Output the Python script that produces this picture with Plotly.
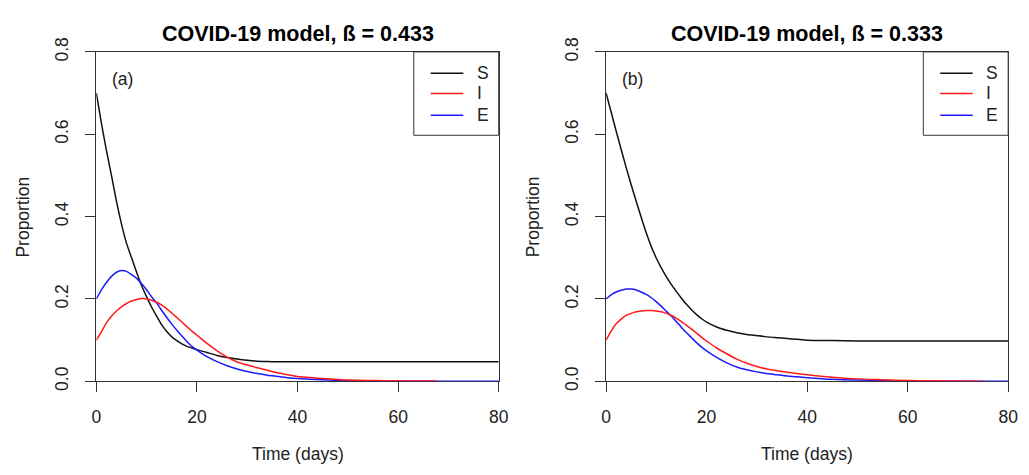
import plotly.graph_objects as go

# ---------------- data ----------------
DAYS = list(range(0, 21)) + list(range(22, 41, 2)) + [45, 50, 55, 60, 65, 70, 75, 80]

# panel (a): beta = 0.433
S_A = [0.700, 0.627, 0.561, 0.500, 0.437, 0.382, 0.335, 0.300, 0.265, 0.232, 0.205,
       0.180, 0.158, 0.137, 0.121, 0.108, 0.099, 0.091, 0.085, 0.081, 0.077,
       0.070, 0.063, 0.058, 0.054, 0.051, 0.049, 0.048, 0.0475, 0.0475, 0.0475,
       0.0475, 0.0475, 0.0475, 0.0475, 0.0475, 0.0475, 0.0475, 0.0475]
E_A = [0.200, 0.222, 0.240, 0.255, 0.265, 0.269, 0.267, 0.259, 0.250, 0.237, 0.222,
       0.205, 0.190, 0.172, 0.155, 0.139, 0.124, 0.110, 0.097, 0.085, 0.076,
       0.060, 0.048, 0.038, 0.030, 0.024, 0.019, 0.015, 0.012, 0.009, 0.007,
       0.004, 0.002, 0.001, 0.0006, 0.0003, 0.0002, 0.0001, 0.0]
I_A_DAYS = list(range(0, 21)) + list(range(22, 41, 2)) + [45, 50, 55, 60, 65, 67.7]
I_A = [0.100, 0.120, 0.142, 0.158, 0.171, 0.181, 0.189, 0.195, 0.199, 0.201, 0.200,
       0.197, 0.192, 0.185, 0.176, 0.166, 0.155, 0.144, 0.133, 0.122, 0.112,
       0.092, 0.074, 0.059, 0.047, 0.0395, 0.033, 0.027, 0.021, 0.016, 0.012,
       0.007, 0.003, 0.002, 0.001, 0.0008, 0.0006]

# panel (b): beta = 0.333
S_B = [0.700, 0.654, 0.608, 0.563, 0.519, 0.477, 0.437, 0.398, 0.360, 0.327, 0.299,
       0.275, 0.254, 0.235, 0.218, 0.202, 0.187, 0.174, 0.162, 0.152, 0.144,
       0.132, 0.124, 0.118, 0.114, 0.111, 0.108, 0.106, 0.104, 0.102, 0.100,
       0.099, 0.098, 0.098, 0.098, 0.098, 0.098, 0.098, 0.098]
E_B = [0.200, 0.210, 0.217, 0.221, 0.224, 0.224, 0.222, 0.217, 0.211, 0.203, 0.193,
       0.182, 0.170, 0.158, 0.145, 0.131, 0.118, 0.106, 0.094, 0.083, 0.074,
       0.058, 0.045, 0.035, 0.028, 0.023, 0.019, 0.016, 0.013, 0.011, 0.009,
       0.005, 0.003, 0.002, 0.001, 0.0006, 0.0003, 0.0002, 0.0]
I_B_DAYS = list(range(0, 21)) + list(range(22, 41, 2)) + [45, 50, 55, 60, 65, 70, 75]
I_B = [0.100, 0.122, 0.140, 0.151, 0.160, 0.165, 0.169, 0.171, 0.172, 0.172, 0.171,
       0.169, 0.165, 0.160, 0.153, 0.145, 0.136, 0.127, 0.117, 0.107, 0.098,
       0.081, 0.067, 0.054, 0.044, 0.036, 0.030, 0.026, 0.022, 0.019, 0.016,
       0.010, 0.006, 0.004, 0.002, 0.0012, 0.0008, 0.0005]

TITLES = ["COVID-19 model, ß = 0.433", "COVID-19 model, ß = 0.333"]
PANEL_TAGS = ["(a)", "(b)"]
SERIES_NAMES = ["S", "I", "E"]
X_TICKS = [0, 20, 40, 60, 80]
Y_TICKS = [0.0, 0.2, 0.4, 0.6, 0.8]
Y_TICK_TEXT = ["0.0", "0.2", "0.4", "0.6", "0.8"]

COLORS = {"S": "#111111", "I": "#ff1a1a", "E": "#1a1aff"}
FONT = "Liberation Sans, Arial, sans-serif"
AXIS_COLOR = "#333333"
TEXT_COLOR = "#222222"

fig = go.Figure()

panels = [
    ("x", "y", {"S": (DAYS, S_A), "E": (DAYS, E_A), "I": (I_A_DAYS, I_A)}),
    ("x2", "y2", {"S": (DAYS, S_B), "E": (DAYS, E_B), "I": (I_B_DAYS, I_B)}),
]
for xa, ya, series in panels:
    for name in ["S", "E", "I"]:
        xs, ys = series[name]
        fig.add_trace(go.Scatter(
            x=xs, y=ys, mode="lines", name=name, xaxis=xa, yaxis=ya,
            line=dict(color=COLORS[name], width=1.5, shape="spline", smoothing=0.6),
            showlegend=False, hoverinfo="skip"))

X_DOMAINS = [[0.0901, 0.4869], [0.5928, 0.9893]]
Y_DOMAIN = [0.1859, 0.9179]

def xaxis_cfg(dom, anchor):
    return dict(domain=dom, anchor=anchor, range=[0, 80], tickvals=X_TICKS,
                ticks="outside", ticklen=10, tickwidth=1, tickcolor=AXIS_COLOR,
                showline=True, linecolor=AXIS_COLOR, linewidth=1, mirror=True,
                showgrid=False, zeroline=False, layer="below traces",
                ticklabelstandoff=10,
                tickfont=dict(family=FONT, size=17.5, color=TEXT_COLOR))

def yaxis_cfg(anchor):
    return dict(domain=Y_DOMAIN, anchor=anchor, range=[0, 0.8], tickvals=Y_TICKS,
                ticktext=Y_TICK_TEXT, tickangle=-90,
                ticks="outside", ticklen=10, tickwidth=1, tickcolor=AXIS_COLOR,
                showline=True, linecolor=AXIS_COLOR, linewidth=1, mirror=True,
                showgrid=False, zeroline=False, layer="below traces",
                ticklabelstandoff=10,
                tickfont=dict(family=FONT, size=17.5, color=TEXT_COLOR))

fig.update_layout(
    width=1029, height=475,
    margin=dict(l=0, r=0, t=0, b=0),
    paper_bgcolor="white", plot_bgcolor="white",
    showlegend=False,
    xaxis=xaxis_cfg(X_DOMAINS[0], "y"),
    yaxis=yaxis_cfg("x"),
    xaxis2=xaxis_cfg(X_DOMAINS[1], "y2"),
    yaxis2=yaxis_cfg("x2"),
)

annotations = []
shapes = []
legend_rows_y = [0.935, 0.874, 0.808]
for k, (xa, ya) in enumerate([("x", "y"), ("x2", "y2")]):
    dom = X_DOMAINS[k]
    cx = (dom[0] + dom[1]) / 2
    # panel title
    annotations.append(dict(text="<b>%s</b>" % TITLES[k], xref="paper", yref="paper",
                            x=cx, y=1 - 20 / 475, xanchor="center", yanchor="middle",
                            showarrow=False, font=dict(family=FONT, size=21.5, color="black")))
    # x axis title
    annotations.append(dict(text="Time (days)", xref="paper", yref="paper",
                            x=cx, y=1 - 463 / 475, xanchor="center", yanchor="middle",
                            showarrow=False, font=dict(family=FONT, size=17.5, color=TEXT_COLOR)))
    # y axis title
    annotations.append(dict(text="Proportion", xref="paper", yref="paper",
                            x=dom[0] - 74.5 / 1029, y=(Y_DOMAIN[0] + Y_DOMAIN[1]) / 2,
                            xanchor="center", yanchor="middle", textangle=-90,
                            showarrow=False, font=dict(family=FONT, size=17.5, color=TEXT_COLOR)))
    # panel tag
    annotations.append(dict(text=PANEL_TAGS[k], xref=xa + " domain", yref=ya + " domain",
                            x=0.035, y=0.919, xanchor="left", yanchor="middle",
                            showarrow=False, font=dict(family=FONT, size=17.5, color=TEXT_COLOR)))
    # legend box
    shapes.append(dict(type="rect", xref=xa + " domain", yref=ya + " domain",
                       x0=0.789, x1=1.0, y0=0.747, y1=1.0,
                       line=dict(color=AXIS_COLOR, width=1), fillcolor="white", layer="above"))
    for name, ry in zip(SERIES_NAMES, legend_rows_y):
        shapes.append(dict(type="line", xref=xa + " domain", yref=ya + " domain",
                           x0=0.831, x1=0.912, y0=ry, y1=ry,
                           line=dict(color=COLORS[name], width=1.5), layer="above"))
        annotations.append(dict(text=name, xref=xa + " domain", yref=ya + " domain",
                                x=0.94, y=ry, xanchor="left", yanchor="middle",
                                showarrow=False,
                                font=dict(family=FONT, size=17.5, color=TEXT_COLOR)))

fig.update_layout(annotations=annotations, shapes=shapes)
fig.write_html("out.html")
